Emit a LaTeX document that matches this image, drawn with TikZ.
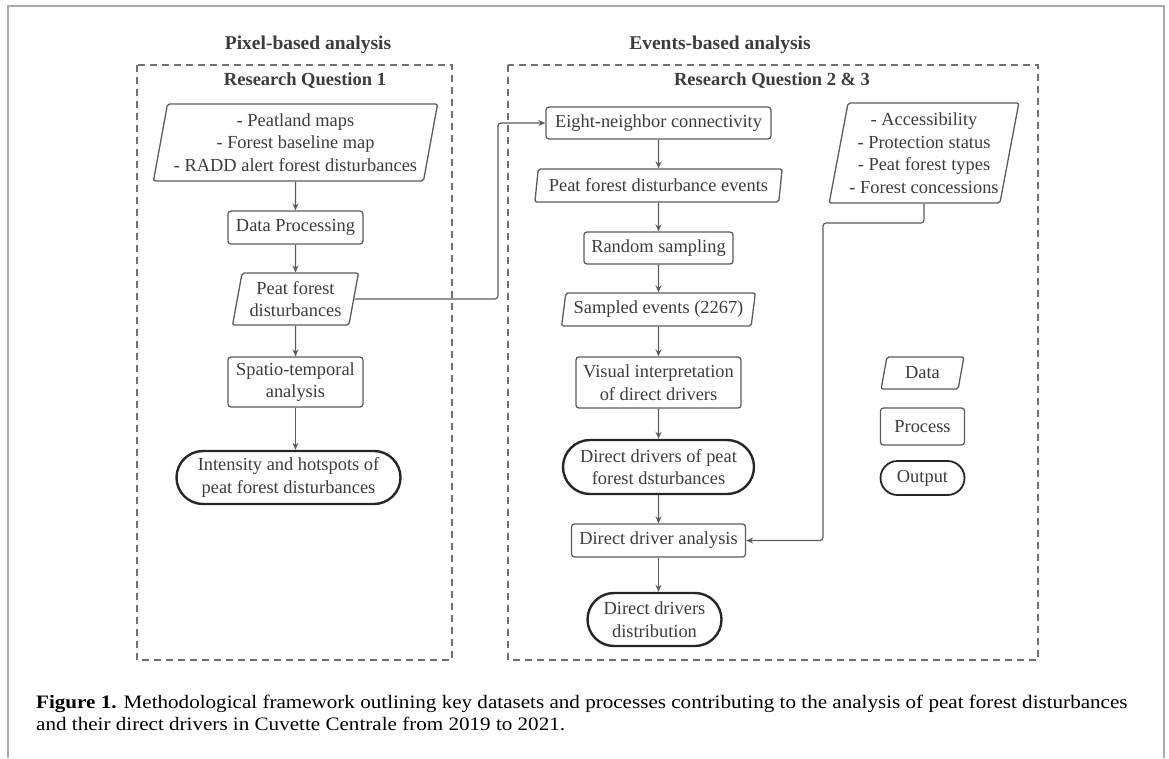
\documentclass[tikz,border=0pt]{standalone}
\usepackage{fontspec}
\setmainfont{Liberation Serif}
\newfontfamily\capserif[FakeStretch=1.11]{Liberation Serif}
\usetikzlibrary{shapes,arrows.meta,positioning,calc}

\definecolor{boxline}{HTML}{5C5C5C}
\definecolor{boxtext}{HTML}{3C3C3C}
\definecolor{dashline}{HTML}{707070}
\definecolor{pageline}{HTML}{AAAAAA}
\newcommand{\nodefont}{\fontsize{18.4}{22.5}\selectfont}
\newcommand{\capfont}{\capserif\fontsize{19}{22}\selectfont}

\begin{document}
\begin{tikzpicture}[x=1pt, y=-1pt, node distance=62.5pt]
    % Define styles
    \tikzstyle{data} = [trapezium, trapezium left angle=77, trapezium right angle=103, trapezium stretches=true, draw=boxline, line width=1.3pt, rounded corners=2pt, inner sep=0pt, align=center, text=boxtext, font=\nodefont]
    \tikzstyle{process} = [rectangle, draw=boxline, line width=1.3pt, rounded corners=3pt, inner sep=0pt, align=center, text=boxtext, font=\nodefont]
    \tikzstyle{terminal} = [rounded rectangle, draw=black!85, line width=2.4pt, inner sep=0pt, align=center, text=boxtext, font=\nodefont]
    \tikzstyle{arrow} = [draw=boxline, line width=1.2pt, -{Stealth[length=7pt,width=6pt]}]
    \tikzstyle{panel} = [draw=dashline, line width=1.3pt, dash pattern=on 7pt off 5pt]
    \tikzstyle{heading} = [text=boxtext, inner sep=0pt, font=\bfseries\fontsize{19.5}{22}\selectfont]
    \tikzstyle{question} = [text=boxtext, inner sep=0pt, font=\bfseries\fontsize{18.5}{22}\selectfont]

    \useasboundingbox (0,0) rectangle (1169,758);
    \draw [draw=pageline, line width=2pt] (8,758) -- (8,6) -- (1164,6) -- (1164,758);

    % Panels
    \draw [panel] (137,65) rectangle (452,660);
    \draw [panel] (508,65) rectangle (1038,660);
    \node [heading] (pixtitle) at (308,45) {Pixel-based analysis};
    \node [heading] (evtitle) at (720,45) {Events-based analysis};
    \node [question] (rq1) at (305,81) {Research Question 1};
    \node [question] (rq23) at (772,81) {Research Question 2 \& 3};

    % Nodes (pixel-based)
    \node [data, minimum width=285pt, minimum height=77pt] (maps) at (295.5,142.5) {- Peatland maps\\- Forest baseline map\\- RADD alert forest disturbances};
    \node [process, below of=maps, node distance=85pt, minimum width=135pt, minimum height=33pt] (prep) {Data Processing};
    \node [data, below of=prep, node distance=71.5pt, minimum width=126pt, minimum height=52pt] (peatdist) {Peat forest\\disturbances};
    \node [process, below of=peatdist, node distance=83pt, minimum width=135pt, minimum height=50pt] (spatial) {Spatio-temporal\\analysis};
    \node [terminal, below of=spatial, node distance=95.5pt, xshift=-7pt, minimum width=224pt, minimum height=53pt] (hotspots) {Intensity and hotspots of\\peat forest disturbances};

    % Nodes (events-based)
    \node [process, minimum width=225pt, minimum height=32pt] (connect) at (658.5,123) {Eight-neighbor connectivity};
    \node [data, below of=connect, minimum width=248pt, minimum height=33pt] (events) {Peat forest disturbance events};
    \node [process, below of=events, minimum width=149pt, minimum height=32pt] (sampling) {Random sampling};
    \node [data, below of=sampling, node distance=61.5pt, minimum width=194pt, minimum height=33pt] (sampled) {Sampled events (2267)};
    \node [process, below of=sampled, node distance=73pt, minimum width=165pt, minimum height=51pt] (interp) {Visual interpretation\\of direct drivers};
    \node [terminal, below of=interp, node distance=84.5pt, minimum width=191pt, minimum height=54pt] (drivers) {Direct drivers of peat\\forest dsturbances};
    \node [process, below of=drivers, node distance=73.5pt, minimum width=174pt, minimum height=33pt] (analysis) {Direct driver analysis};
    \node [terminal, below of=analysis, node distance=79pt, xshift=-4pt, minimum width=134pt, minimum height=53pt] (distribution) {Direct drivers\\distribution};
    \node [data, minimum width=190pt, minimum height=100pt] (factors) at (924,153) {- Accessibility\\- Protection status\\- Peat forest types\\- Forest concessions};

    % Legend
    \node [data, minimum width=83pt, minimum height=32pt] (keydata) at (922.5,373) {Data};
    \node [process, below of=keydata, node distance=53.5pt, minimum width=84pt, minimum height=37pt] (keyprocess) {Process};
    \node [terminal, below of=keyprocess, node distance=51.5pt, line width=1.8pt, minimum width=84pt, minimum height=34pt] (keyoutput) {Output};

    % Arrows
    \draw [arrow] (maps) -- (prep);
    \draw [arrow] (prep) -- (peatdist);
    \draw [arrow] (peatdist) -- (spatial);
    \draw [arrow] (spatial.south) -- (spatial.south |- hotspots.north);
    \draw [arrow] (connect) -- (events);
    \draw [arrow] (events) -- (sampling);
    \draw [arrow] (sampling) -- (sampled);
    \draw [arrow] (sampled) -- (interp);
    \draw [arrow] (interp) -- (drivers);
    \draw [arrow] (drivers) -- (analysis);
    \draw [arrow] (analysis.south) -- (analysis.south |- distribution.north);
    \coordinate (jogA) at (498,298);
    \draw [arrow, rounded corners=3pt] (peatdist.east) -- (peatdist.east -| jogA) |- (connect.west);
    \coordinate (jogB) at (823,223);
    \draw [arrow, rounded corners=3pt] (factors.south) |- (jogB) |- (analysis.east);

    % Caption
    \node [anchor=west, align=left, inner sep=0pt, font=\capfont] (caption) at (36,712.5) {\textbf{Figure 1.} Methodological framework outlining key datasets and processes contributing to the analysis of peat forest disturbances\\and their direct drivers in Cuvette Centrale from 2019 to 2021.};
\end{tikzpicture}
\end{document}
